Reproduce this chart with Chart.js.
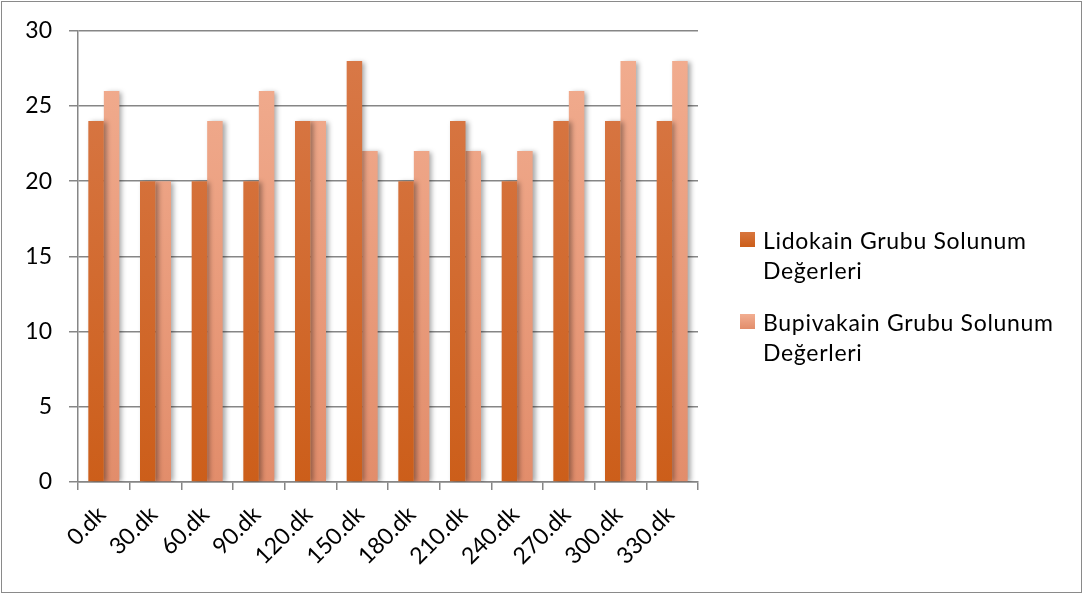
<!DOCTYPE html>
<html>
<head>
<meta charset="utf-8">
<script src="https://cdn.jsdelivr.net/npm/chart.js@4/dist/chart.umd.min.js"></script>
<style>
  html, body { margin: 0; padding: 0; background: #fff; }
  #wrap { position: relative; width: 1085px; height: 595px; overflow: hidden; }
  #frame { position: absolute; left: 1px; top: 1px; width: 1079px; height: 590px; border: 1px solid #8a8a8a; pointer-events: none; }
  canvas { position: absolute; left: 0; top: 0; }
  .legend { position: absolute; left: 740px; font-family: Lato, "Open Sans", sans-serif; font-size: 23px; letter-spacing: 0.7px; line-height: 30px; color: #000; white-space: nowrap; }
  .legend .item { position: relative; padding-left: 23px; margin-bottom: 22px; }
  .legend .sw { position: absolute; left: 0; top: 7px; width: 15px; height: 15px; }
</style>
</head>
<body>
<div id="wrap">
  <canvas id="c" width="1085" height="595"></canvas>
  <div class="legend" style="top:225px;">
    <div class="item"><span class="sw" style="background:linear-gradient(#d8763e,#cc5e1a);"></span>Lidokain Grubu Solunum<br>Değerleri</div>
    <div class="item"><span class="sw" style="background:linear-gradient(#f2ae91,#e28d6b);"></span>Bupivakain Grubu Solunum<br>Değerleri</div>
  </div>
  <div id="frame"></div>
</div>
<script>
const categories = ["0.dk","30.dk","60.dk","90.dk","120.dk","150.dk","180.dk","210.dk","240.dk","270.dk","300.dk","330.dk"];
const lidokainValues = [24,20,20,20,24,28,20,24,20,24,24,24];
const bupivakainValues = [26,20,24,26,24,22,22,22,22,26,28,28];
const seriesNames = ["Lidokain Grubu Solunum Değerleri","Bupivakain Grubu Solunum Değerleri"];
const yTicks = [0,5,10,15,20,25,30];

function grad(top, bottom) {
  return function(context) {
    const chart = context.chart;
    const area = chart.chartArea;
    if (!area) return bottom;
    const g = chart.ctx.createLinearGradient(0, area.top, 0, area.bottom);
    g.addColorStop(0, top);
    g.addColorStop(1, bottom);
    return g;
  };
}

const shadowPlugin = {
  id: 'barShadow',
  beforeDatasetsDraw(chart) {
    const ctx = chart.ctx;
    ctx.save();
    ctx.shadowColor = 'rgba(0,0,0,0.35)';
    ctx.shadowBlur = 5;
    ctx.shadowOffsetX = 3;
    ctx.shadowOffsetY = 1;
  },
  afterDatasetsDraw(chart) {
    chart.ctx.restore();
  }
};

new Chart(document.getElementById('c'), {
  type: 'bar',
  data: {
    labels: categories,
    datasets: [
      { label: seriesNames[0], data: lidokainValues, backgroundColor: grad('#d97a4a', '#cc5e1a'), borderWidth: 0 },
      { label: seriesNames[1], data: bupivakainValues, backgroundColor: grad('#f2ae91', '#e28d6b'), borderWidth: 0 }
    ]
  },
  plugins: [shadowPlugin],
  options: {
    responsive: false,
    animation: false,
    layout: { padding: { left: 0, right: 387, top: 30, bottom: 0 } },
    plugins: { legend: { display: false }, tooltip: { enabled: false } },
    datasets: { bar: { categoryPercentage: 0.6, barPercentage: 1.0 } },
    scales: {
      x: {
        offset: true,
        grid: { offset: true, drawOnChartArea: false, color: '#868686', lineWidth: 1.5, tickLength: 8 },
        border: { color: '#868686', width: 1.5 },
        ticks: { minRotation: 45, maxRotation: 45, autoSkip: false, padding: 11, labelOffset: -2, color: '#000', font: { family: 'Lato, "Open Sans", sans-serif', size: 23 } },
        afterFit(scale) { scale.height = 113; }
      },
      y: {
        min: 0, max: 30,
        afterBuildTicks(scale) { scale.ticks = yTicks.map(v => ({ value: v })); },
        grid: { color: '#868686', lineWidth: 1.5, tickLength: 9 },
        border: { color: '#868686', width: 1.5 },
        ticks: { padding: 17, color: '#000', font: { family: 'Lato, "Open Sans", sans-serif', size: 23 } },
        afterFit(scale) { scale.width = 78; }
      }
    }
  }
});
</script>
</body>
</html>
